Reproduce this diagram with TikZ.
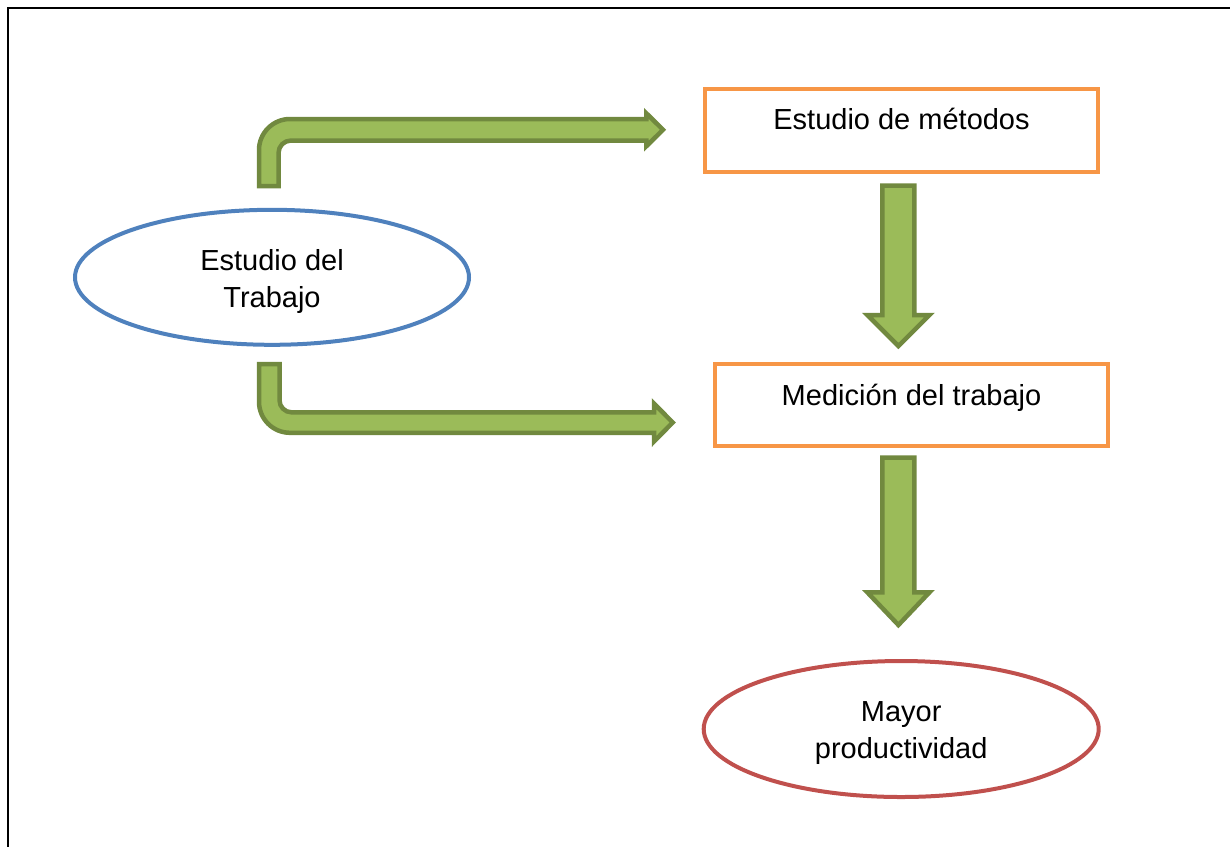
\documentclass[tikz,border=0pt]{standalone}
\usepackage{fontspec}
\setmainfont{Liberation Sans}
\usetikzlibrary{shapes.geometric}
\definecolor{frameblack}{HTML}{000000}
\definecolor{ovalblue}{HTML}{4F81BD}
\definecolor{ovalred}{HTML}{C0504D}
\definecolor{boxorange}{HTML}{F79646}
\definecolor{arrowfill}{HTML}{9BBB59}
\definecolor{arrowline}{HTML}{71893F}
\begin{document}
\begin{tikzpicture}[x=1pt,y=-1pt,
  frameline/.style={draw=frameblack,line width=2pt},
  oval/.style={shape=ellipse,draw,line width=4pt,inner sep=0pt},
  stepbox/.style={shape=rectangle,draw=boxorange,line width=4pt,inner sep=0pt,
    minimum width=393pt,font=\fontsize{29}{37}\selectfont},
  lbl/.style={align=center,inner sep=0pt,font=\fontsize{29}{37}\selectfont},
  blockarrow/.style={fill=arrowfill,draw=arrowline,line width=4.5pt,line join=miter}]
\useasboundingbox (0,0) rectangle (1230,847);

% page frame (top and left rules)
\coordinate (frameTL) at (8,8);
\coordinate (frameTR) at (1230,8);
\coordinate (frameBL) at (8,847);
\draw[frameline] (frameTR) -- (frameTL) -- (frameBL);

% ovals
\node[oval,draw=ovalblue,minimum width=394pt,minimum height=135pt] (trabajo) at (272,277.3) {};
\node[lbl] (trabajotxt) at ([yshift=-4pt]trabajo.center) {Estudio del\\Trabajo};
\node[oval,draw=ovalred,minimum width=395pt,minimum height=136pt] (mayor) at (901.2,729) {};
\node[lbl] (mayortxt) at ([yshift=-4.5pt]mayor.center) {Mayor\\productividad};

% boxes (text set towards the top)
\node[stepbox,minimum height=83pt,text height=20pt,text depth=23pt] (metodos) at (901.5,130.5) {Estudio de métodos};
\node[stepbox,minimum height=82pt,text height=21pt,text depth=21pt] (medicion) at (911.5,405) {Medición del trabajo};

% bent block arrows from the oval
\draw[blockarrow] (259,186) -- (259,150) .. controls (259,132.9) and (272.9,119) .. (290,119)
  -- (646.3,119) -- (646.3,113.25) -- (663,129.75) -- (646.3,146.25) -- (646.3,140.5)
  -- (291,140.5) .. controls (284.1,140.5) and (278.5,146.1) .. (278.5,153) -- (278.5,186) -- cycle;
\draw[blockarrow] (259,364) -- (259,401.8) .. controls (259,418.9) and (272.9,432.8) .. (290,432.8)
  -- (654,432.8) -- (654,441.5) -- (672.7,422.5) -- (654,403.5) -- (654,412.3)
  -- (291.5,412.3) .. controls (284.9,412.3) and (279.5,406.9) .. (279.5,400.3) -- (279.5,364) -- cycle;

% downward block arrows
\draw[blockarrow] (882.4,185.5) -- (914.4,185.5) -- (914.4,315) -- (929.5,315) -- (898.4,346)
  -- (867.3,315) -- (882.4,315) -- cycle;
\draw[blockarrow] (882.4,457.5) -- (914.4,457.5) -- (914.4,592.3) -- (929.5,592.3) -- (898.4,625)
  -- (867.3,592.3) -- (882.4,592.3) -- cycle;
\end{tikzpicture}
\end{document}
